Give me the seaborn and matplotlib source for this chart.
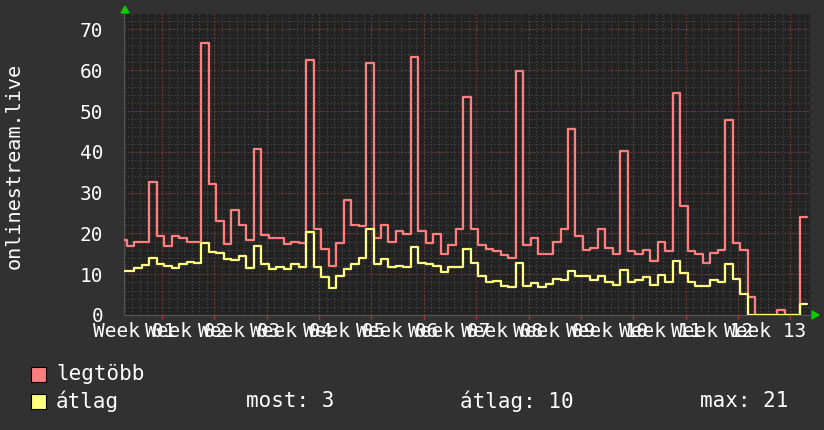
import numpy as np
import pandas as pd
import matplotlib
matplotlib.use("Agg")
import matplotlib.pyplot as plt
import seaborn as sns
from matplotlib.patches import Rectangle, Polygon

# ---- data (daily values, day -1 .. 90) ----
days = list(range(-1, 91))
legtobb = [18.5, 16.8, 18.0, 18.0, 32.5, 19.3, 16.8, 19.3, 18.8, 18.0,
           18.0, 66.6, 32.0, 23.0, 17.3, 25.8, 22.0, 18.5, 40.7, 19.5,
           19.0, 19.0, 17.3, 18.0, 17.6, 62.4, 21.0, 16.3, 12.0, 17.6,
           28.1, 22.1, 21.8, 61.8, 19.0, 22.1, 18.0, 20.6, 19.9, 63.2,
           20.5, 17.6, 19.9, 14.9, 17.1, 21.1, 53.5, 21.2, 17.2, 16.3,
           15.7, 14.7, 13.9, 59.8, 17.1, 18.9, 14.9, 14.9, 17.9, 21.0,
           45.6, 19.3, 15.9, 16.5, 21.0, 16.5, 14.9, 40.3, 15.7, 15.0,
           15.9, 13.2, 17.9, 15.7, 54.5, 26.7, 15.7, 14.9, 12.8, 15.1,
           15.9, 47.8, 17.6, 15.9, 4.5, 0, 0, 0, 1.3, 0,
           0, 24.0]
atlag = [10.8, 10.8, 11.5, 12.3, 13.9, 12.6, 12.0, 11.5, 12.6, 13.0,
         12.8, 17.6, 15.4, 15.1, 13.7, 13.5, 14.5, 11.6, 16.9, 12.6,
         11.2, 11.8, 11.4, 12.5, 11.8, 20.3, 11.8, 9.2, 6.7, 9.6,
         11.4, 12.4, 13.9, 21.2, 12.4, 13.7, 11.8, 12.1, 11.8, 16.7,
         12.8, 12.5, 12.0, 10.6, 11.8, 11.8, 16.1, 12.7, 9.6, 8.1,
         8.3, 7.2, 6.8, 12.7, 7.0, 7.9, 6.8, 7.6, 8.8, 8.6,
         10.8, 9.6, 9.6, 8.6, 9.6, 8.0, 7.4, 11.1, 8.0, 8.5,
         9.3, 7.4, 9.8, 8.0, 13.2, 10.2, 8.0, 7.2, 7.0, 8.5,
         8.0, 12.4, 8.8, 5.1, 0, 0, 0, 0, 0, 0,
         0, 2.7]
week_labels = ["Week %02d" % w for w in range(1, 14)]
y_ticks = [0, 10, 20, 30, 40, 50, 60, 70]
legend_names = ["legtöbb", "átlag"]
stats_text = ["most: 3", "átlag: 10", "max: 21"]

RED = "#ff7f7f"
YEL = "#ffff80"
BG = "#313131"
PLOT_BG = "#222222"
MONO = "DejaVu Sans Mono"

sns.set_theme(style="dark")
plt.rcParams["font.family"] = [MONO]

# extend last step to end of its day
x_ext = days + [days[-1] + 1]
df = pd.DataFrame({
    "day": x_ext * 2,
    "value": legtobb + [legtobb[-1]] + atlag + [atlag[-1]],
    "series": [legend_names[0]] * len(x_ext) + [legend_names[1]] * len(x_ext),
})

W, H = 824, 430
fig = plt.figure(figsize=(W / 100, H / 100), dpi=100, facecolor=BG)
left, right, top, bottom = 124, 810, 14, 315
ax = fig.add_axes([left / W, 1 - bottom / H, (right - left) / W, (bottom - top) / H])
ax.set_facecolor(PLOT_BG)

xmin, xmax = -0.36, 91.35
ymin, ymax = 0, 73.8
grid0 = 4.72

# grid
for j in np.arange(grid0 - 6, xmax, 1.0):
    ax.axvline(j, color="#4d4d4d", lw=0.8, ls=(0, (1, 2)), zorder=1)
for v in np.arange(2, 74, 2):
    ax.axhline(v, color="#4d4d4d", lw=0.8, ls=(0, (1, 2)), zorder=1)
for k in range(13):
    ax.axvline(grid0 + 7 * k, color="#7a3535", lw=0.9, ls=(0, (1, 2)), zorder=1.5)
for v in y_ticks[1:]:
    ax.axhline(v, color="#7a3535", lw=0.9, ls=(0, (1, 2)), zorder=1.5)

sns.lineplot(data=df, x="day", y="value", hue="series",
             palette={legend_names[0]: RED, legend_names[1]: YEL},
             drawstyle="steps-post", linewidth=1.6, legend=False,
             ax=ax, zorder=3)

ax.set_xlim(xmin, xmax)
ax.set_ylim(ymin, ymax)
ax.set_xlabel("")
ax.set_ylabel("")

label_pos = [0.95 + 7.03 * k for k in range(13)]
ax.set_xticks(label_pos)
ax.set_xticklabels(week_labels)
ax.set_yticks(y_ticks)
ax.set_yticklabels([str(v) for v in y_ticks])
ax.tick_params(axis="x", length=0, pad=5, labelsize=14, labelcolor="white")
ax.tick_params(axis="y", length=0, pad=15, labelsize=14, labelcolor="white")
ax.grid(False)
for s in ["top", "right"]:
    ax.spines[s].set_visible(False)
for s in ["left", "bottom"]:
    ax.spines[s].set_color("#555555")
    ax.spines[s].set_linewidth(0.8)

# small red tick marks under major grid lines
for k in range(13):
    ax.plot([grid0 + 7 * k] * 2, [-0.9, 0], color="#b03030", lw=1, clip_on=False, zorder=2)

# green arrows
fig.patches.append(Polygon([[121 / W, 1 - 13 / H], [129 / W, 1 - 13 / H], [125 / W, 1 - 6 / H]],
                           closed=True, transform=fig.transFigure, color="#00cc00", zorder=10))
fig.patches.append(Polygon([[812 / W, 1 - 311 / H], [812 / W, 1 - 319 / H], [819 / W, 1 - 315 / H]],
                           closed=True, transform=fig.transFigure, color="#00cc00", zorder=10))

# y label
fig.text(14 / W, 1 - 166 / H, "onlinestream.live", rotation=90, ha="center", va="center",
         color="white", fontsize=14.5, family=MONO)

# legend
for i, (name, col) in enumerate(zip(legend_names, [RED, YEL])):
    yc = 374 + 27 * i
    fig.patches.append(Rectangle((31 / W, 1 - (yc + 8) / H), 15 / W, 15 / H,
                                 transform=fig.transFigure, facecolor=col,
                                 edgecolor="black", lw=0.8))
    fig.text(56 / W, 1 - yc / H, name, ha="left", va="center", color="white",
             fontsize=15, family=MONO)
for txt, xs in zip(stats_text, [246, 460, 700]):
    fig.text(xs / W, 1 - 401 / H, txt, ha="left", va="center", color="white",
             fontsize=15, family=MONO)

fig.savefig("out.png", dpi=100, facecolor=BG)
